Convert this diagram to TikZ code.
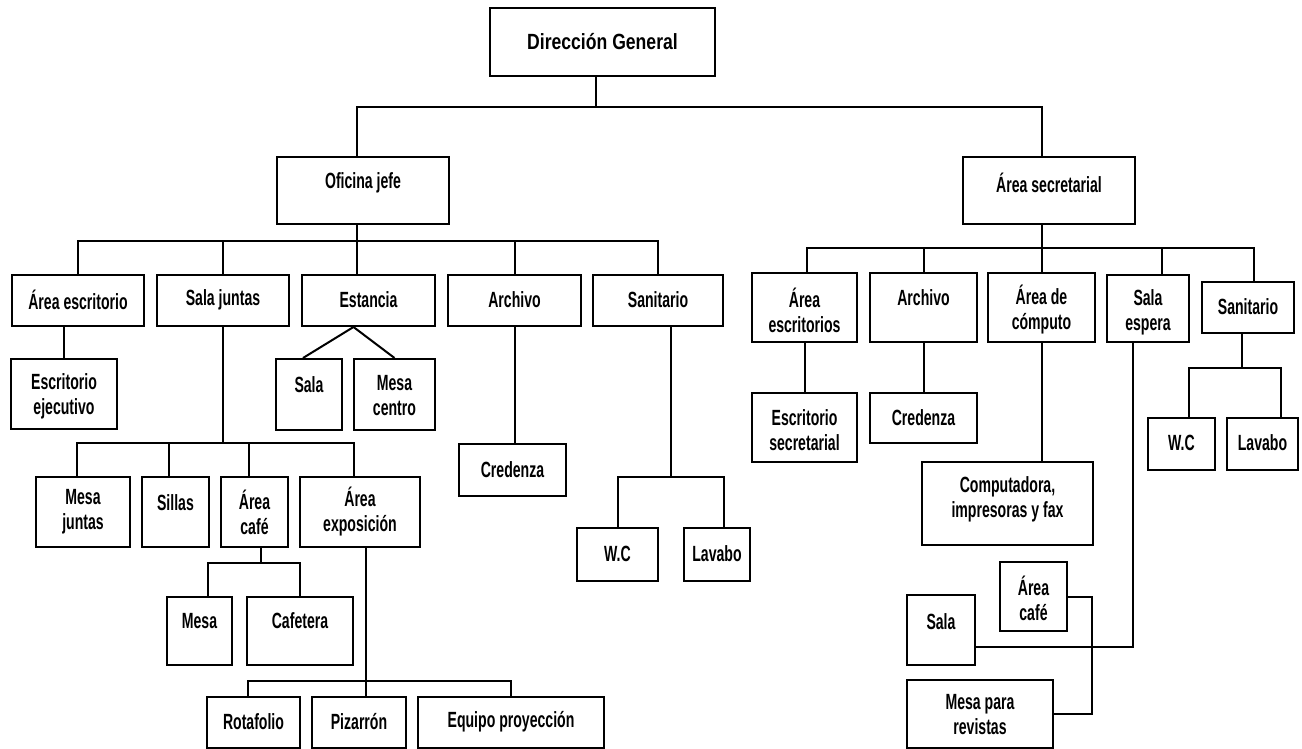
\documentclass[tikz,border=0pt]{standalone}
\usepackage{fontspec}
\setmainfont{Liberation Sans}[FakeStretch=0.64]
\newfontfamily\titlefont{Liberation Sans}[FakeStretch=0.8]

% box from (x1,y1) to (x2,y2) in pixel units (y grows downward), text centred at height ty
\newcommand{\orgbox}[7]{%
  \pgfmathsetmacro{\bcx}{(#2+#4)/2}%
  \pgfmathsetmacro{\bcy}{(#3+#5)/2}%
  \pgfmathsetmacro{\bw}{#4-#2}%
  \pgfmathsetmacro{\bh}{#5-#3}%
  \node[orgrect, minimum width=\bw pt, minimum height=\bh pt] (#1) at (\bcx,\bcy) {};%
  \node[orglabel] (#1-t) at (\bcx,#6) {#7};%
}

\begin{document}
\begin{tikzpicture}[x=1pt, y=-1pt,
  orgrect/.style={draw=black, line width=2pt, inner sep=0pt, fill=none},
  orglabel/.style={inner sep=0pt, align=center, font=\bfseries\fontsize{22}{25}\selectfont},
  link/.style={draw=black, line width=2pt}]
\useasboundingbox (0,0) rectangle (1302,749);
\fill[white] (0,0) rectangle (1302,749);

% ---------- top levels ----------
\orgbox{dg}{490}{8}{715}{76}{42}{\titlefont\bfseries\fontsize{22}{25}\selectfont Dirección General}
\orgbox{oj}{277}{157}{449}{224}{183}{Oficina jefe}
\orgbox{as}{963}{157}{1135}{224}{183}{Área secretarial}

% ---------- Oficina jefe branch ----------
\orgbox{aesc}{12}{275}{144}{326}{300}{Área escritorio}
\orgbox{sj}{157}{275}{289}{326}{300}{Sala juntas}
\orgbox{est}{302}{275}{435}{326}{300}{Estancia}
\orgbox{arc}{448}{275}{581}{326}{300}{Archivo}
\orgbox{san}{593}{275}{723}{326}{300}{Sanitario}

\orgbox{eje}{11}{359}{117}{429}{396}{Escritorio\\ejecutivo}
\orgbox{sal}{276}{359}{342}{430}{385}{Sala}
\orgbox{mc}{354}{359}{435}{430}{396}{Mesa\\centro}
\orgbox{cred}{459}{444}{566}{496}{470}{Credenza}

\orgbox{mj}{36}{477}{130}{547}{512}{Mesa\\juntas}
\orgbox{sil}{142}{477}{209}{547}{503}{Sillas}
\orgbox{acaf}{221}{477}{288}{547}{512}{Área\\café}
\orgbox{aexp}{300}{477}{420}{547}{512}{Área\\exposición}

\orgbox{wc}{577}{528}{658}{581}{554}{W.C}
\orgbox{lav}{684}{528}{750}{581}{554}{Lavabo}

\orgbox{mesa}{167}{597}{232}{665}{621}{Mesa}
\orgbox{caf}{247}{597}{353}{665}{621}{Cafetera}

\orgbox{rot}{207}{697}{300}{748}{722}{Rotafolio}
\orgbox{piz}{312}{697}{406}{748}{722}{Pizarrón}
\orgbox{eq}{418}{697}{604}{748}{722}{Equipo proyección}

% ---------- Área secretarial branch ----------
\orgbox{aescs}{752}{273}{857}{342}{310}{Área\\escritorios}
\orgbox{arcR}{870}{273}{977}{342}{298}{Archivo}
\orgbox{acom}{988}{273}{1095}{342}{310}{Área de\\cómputo}
\orgbox{se}{1107}{275}{1189}{342}{312}{Sala\\espera}
\orgbox{sanR}{1202}{282}{1294}{333}{307}{Sanitario}

\orgbox{esec}{752}{393}{857}{462}{430}{Escritorio\\secretarial}
\orgbox{credR}{870}{393}{977}{443}{418}{Credenza}
\orgbox{wcR}{1148}{418}{1215}{470}{443}{W.C}
\orgbox{lavR}{1227}{418}{1298}{470}{443}{Lavabo}

\orgbox{comp}{922}{462}{1093}{545}{499}{Computadora,\\impresoras y fax}
\orgbox{acafR}{1000}{562}{1067}{631}{598}{Área\\café}
\orgbox{salR}{907}{595}{975}{665}{622}{Sala}
\orgbox{mpr}{907}{680}{1053}{748}{715}{Mesa para\\revistas}

% ---------- bus heights ----------
\coordinate (bus0) at (0,107);
\coordinate (bus1) at (0,241);
\coordinate (bus2) at (0,443);
\coordinate (bus3) at (0,563);
\coordinate (bus4) at (0,681);
\coordinate (bus5) at (0,477);
\coordinate (bus6) at (0,248);
\coordinate (bus7) at (0,368);
\coordinate (bus8) at (1092,0);

% ---------- connector attachment points ----------
\coordinate (dgS)   at ([xshift=-7pt]dg.south);
\coordinate (ojN)   at ([xshift=-6pt]oj.north);
\coordinate (ojS)   at ([xshift=-6pt]oj.south);
\coordinate (asN)   at ([xshift=-7pt]as.north);
\coordinate (asS)   at ([xshift=-7pt]as.south);
\coordinate (mjN)   at ([xshift=-6pt]mj.north);
\coordinate (silN)  at ([xshift=-7pt]sil.north);
\coordinate (acafN) at ([xshift=-6pt]acaf.north);
\coordinate (aexpN) at ([xshift=-6pt]aexp.north);
\coordinate (estS)  at ([xshift=-15pt]est.south);
\coordinate (salN)  at ([xshift=-6pt]sal.north);
\coordinate (acafS) at ([xshift=6pt]acaf.south);
\coordinate (mesaN) at ([xshift=8pt]mesa.north);
\coordinate (aexpS) at ([xshift=6pt]aexp.south);
\coordinate (rotN)  at ([xshift=-6pt]rot.north);
\coordinate (sanS)  at ([xshift=13pt]san.south);
\coordinate (lavN)  at ([xshift=7pt]lav.north);
\coordinate (aescsN) at ([xshift=2pt]aescs.north);
\coordinate (seN)   at ([xshift=14pt]se.north);
\coordinate (sanRN) at ([xshift=6pt]sanR.north);
\coordinate (seS)   at ([xshift=-15pt]se.south);
\coordinate (salRE) at ([yshift=-17pt]salR.east);
\coordinate (sanRS) at ([xshift=-6pt]sanR.south);
\coordinate (wcRN)  at ([xshift=7pt]wcR.north);
\coordinate (lavRN) at ([xshift=18pt]lavR.north);

% ---------- connectors ----------
% Dirección General
\draw[link] (dgS) -- (dgS |- bus0);
\draw[link] (ojN) |- (asN |- bus0) -- (asN);

% Oficina jefe
\draw[link] (ojS) -- (ojS |- est.north);
\draw[link] (aesc.north) |- (san.north |- bus1) -- (san.north);
\draw[link] (sj.north) -- (sj.north |- bus1);
\draw[link] (arc.north) -- (arc.north |- bus1);

\draw[link] (eje.north) -- (eje.north |- aesc.south);
\draw[link] (salN) -- (estS) -- (mc.north);
\draw[link] (arc.south) -- (arc.south |- cred.north);

\draw[link] (sj.south) -- (sj.south |- bus2);
\draw[link] (mjN) |- (aexpN |- bus2) -- (aexpN);
\draw[link] (silN) -- (silN |- bus2);
\draw[link] (acafN) -- (acafN |- bus2);

\draw[link] (acafS) -- (acafS |- bus3);
\draw[link] (mesaN) |- (caf.north |- bus3) -- (caf.north);

\draw[link] (aexpS) -- (aexpS |- piz.north);
\draw[link] (rotN) |- (eq.north |- bus4) -- (eq.north);

\draw[link] (sanS) -- (sanS |- bus5);
\draw[link] (wc.north) |- (lavN |- bus5) -- (lavN);

% Área secretarial
\draw[link] (asS) -- (asS |- acom.north);
\draw[link] (aescsN) |- (sanRN |- bus6) -- (sanRN);
\draw[link] (arcR.north) -- (arcR.north |- bus6);
\draw[link] (seN) -- (seN |- bus6);

\draw[link] (aescs.south) -- (esec.north);
\draw[link] (arcR.south) -- (credR.north);
\draw[link] (acom.south) -- (acom.south |- comp.north);

\draw[link] (seS) |- (salRE);
\draw[link] (acafR.east) -| (bus8 |- mpr.east) -- (mpr.east);

\draw[link] (sanRS) -- (sanRS |- bus7);
\draw[link] (wcRN) |- (lavRN |- bus7) -- (lavRN);
\end{tikzpicture}
\end{document}
